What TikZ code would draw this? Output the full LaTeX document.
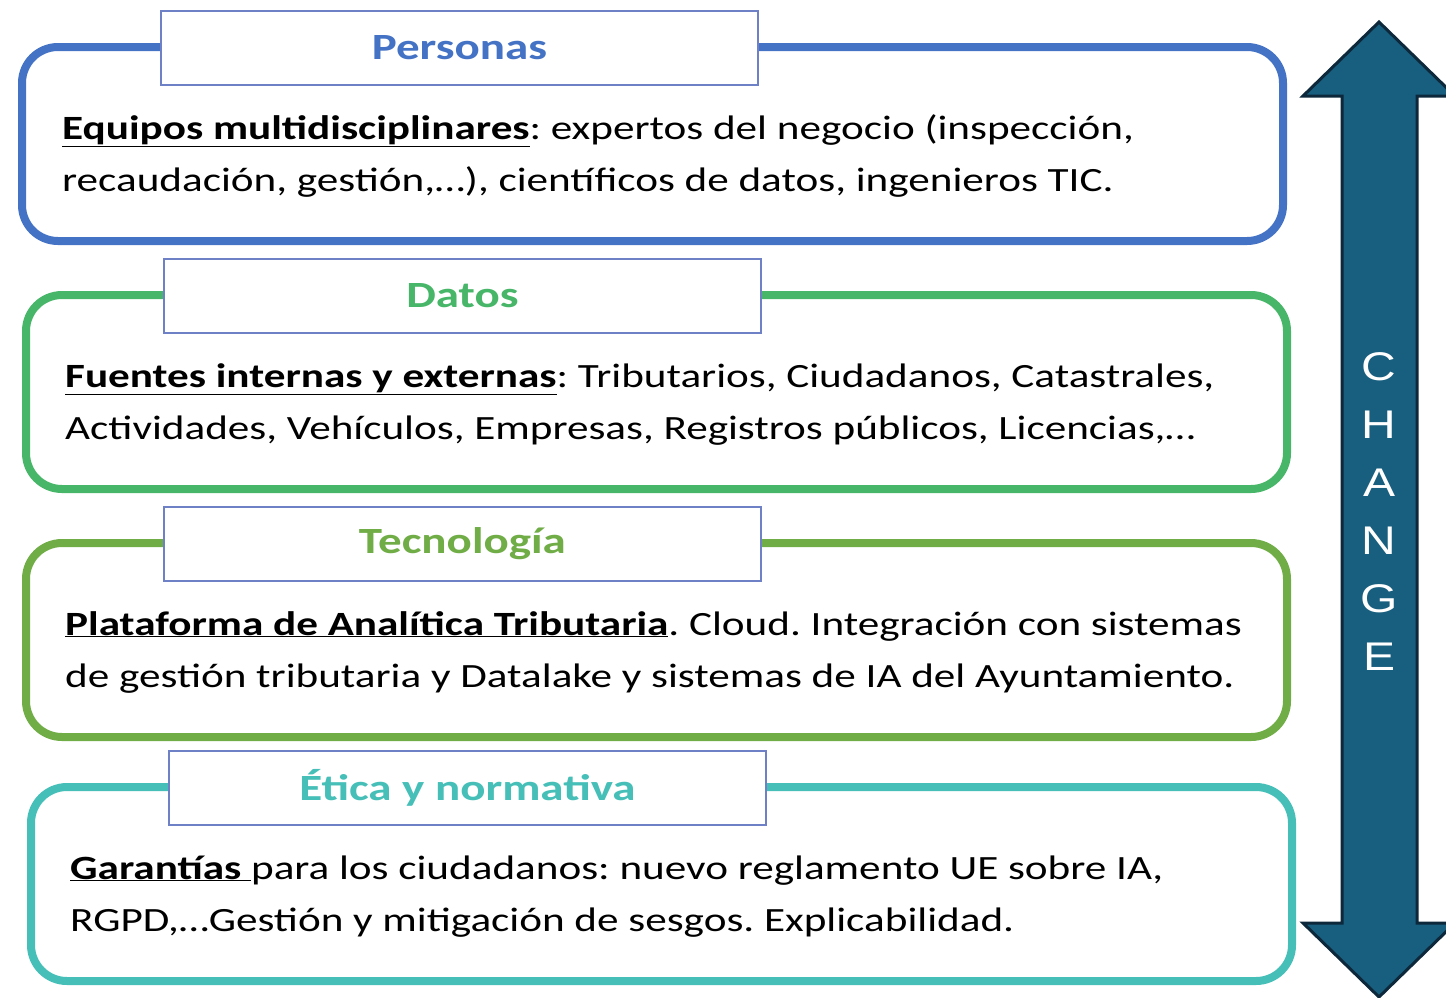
\documentclass[tikz,border=0pt]{standalone}
\usepackage{fontspec}
\setmainfont{Carlito}[FakeStretch=1.27]
\newfontfamily\changefont{Liberation Sans}[FakeStretch=1.2]
\usetikzlibrary{positioning}
\frenchspacing

\definecolor{pblue}{RGB}{68,114,196}
\definecolor{pgreen}{RGB}{72,182,104}
\definecolor{pleaf}{RGB}{112,173,71}
\definecolor{pteal}{RGB}{69,191,183}
\definecolor{tborder}{RGB}{110,128,198}
\definecolor{arrowblue}{RGB}{24,94,126}
\definecolor{arrowedge}{RGB}{12,40,58}

\newcommand{\bodyfont}{\fontsize{34}{52}\selectfont}
\newcommand{\titlefont}{\bfseries\fontsize{37}{44}\selectfont}

\tikzset{
  panel/.style={draw=#1, line width=8pt, rounded corners=36pt, anchor=north west, inner sep=0pt},
  titlebox/.style={draw=tborder, line width=1.8pt, fill=white, text=#1, font=\titlefont,
    anchor=north west, inner sep=0pt, minimum width=597pt, minimum height=74pt},
  bodytext/.style={anchor=base west, align=left, font=\bodyfont, inner sep=0pt}
}

\begin{document}
\begin{tikzpicture}[x=1pt, y=-1pt]
  \useasboundingbox (0,0) rectangle (1446,997);

  % the four layers (body text is placed by the baseline of its last line)
  \node[panel=pblue, minimum width=1261pt, minimum height=194pt] (personas) at (18,43) {};
  \node[titlebox=pblue] (tpersonas) at (160,10) {Personas};
  \node[bodytext] (bpersonas) at (62,191)
    {\underline{\textbf{Equipos multidisciplinares}}: expertos del negocio (inspección,\\
     recaudación, gestión,\dots), científicos de datos, ingenieros TIC.};

  \node[panel=pgreen, minimum width=1261pt, minimum height=194pt] (datos) at (22,291) {};
  \node[titlebox=pgreen] (tdatos) at (163,258) {Datos};
  \node[bodytext] (bdatos) at (65,439)
    {\underline{\textbf{Fuentes internas y externas}}: Tributarios, Ciudadanos, Catastrales,\\
     Actividades, Vehículos, Empresas, Registros públicos, Licencias,\dots};

  \node[panel=pleaf, minimum width=1261pt, minimum height=194pt] (tecno) at (22,539) {};
  \node[titlebox=pleaf] (ttecno) at (163,506) {Tecnología};
  \node[bodytext] (btecno) at (65,687)
    {\underline{\textbf{Plataforma de Analítica Tributaria}}. Cloud. Integración con sistemas\\
     de gestión tributaria y Datalake y sistemas de IA del Ayuntamiento.};

  \node[panel=pteal, minimum width=1261pt, minimum height=194pt] (etica) at (27,783) {};
  \node[titlebox=pteal] (tetica) at (168,750) {Ética y normativa};
  \node[bodytext] (betica) at (70,931)
    {\underline{\textbf{Garantías}\ }para los ciudadanos: nuevo reglamento UE sobre IA,\\
     RGPD,\dots Gestión y mitigación de sesgos. Explicabilidad.};

  % change arrow
  \draw[arrowedge, fill=arrowblue, line width=3pt, line join=miter]
    (1379,22) -- (1455,96) -- (1417,96) -- (1417,923) -- (1455,923) -- (1379,997)
    -- (1303,923) -- (1342,923) -- (1342,96) -- (1303,96) -- cycle;
  \node[text=white, align=center, font=\changefont\fontsize{40}{58}\selectfont] (change) at (1379,512)
    {C\\H\\A\\N\\G\\E};
\end{tikzpicture}
\end{document}
